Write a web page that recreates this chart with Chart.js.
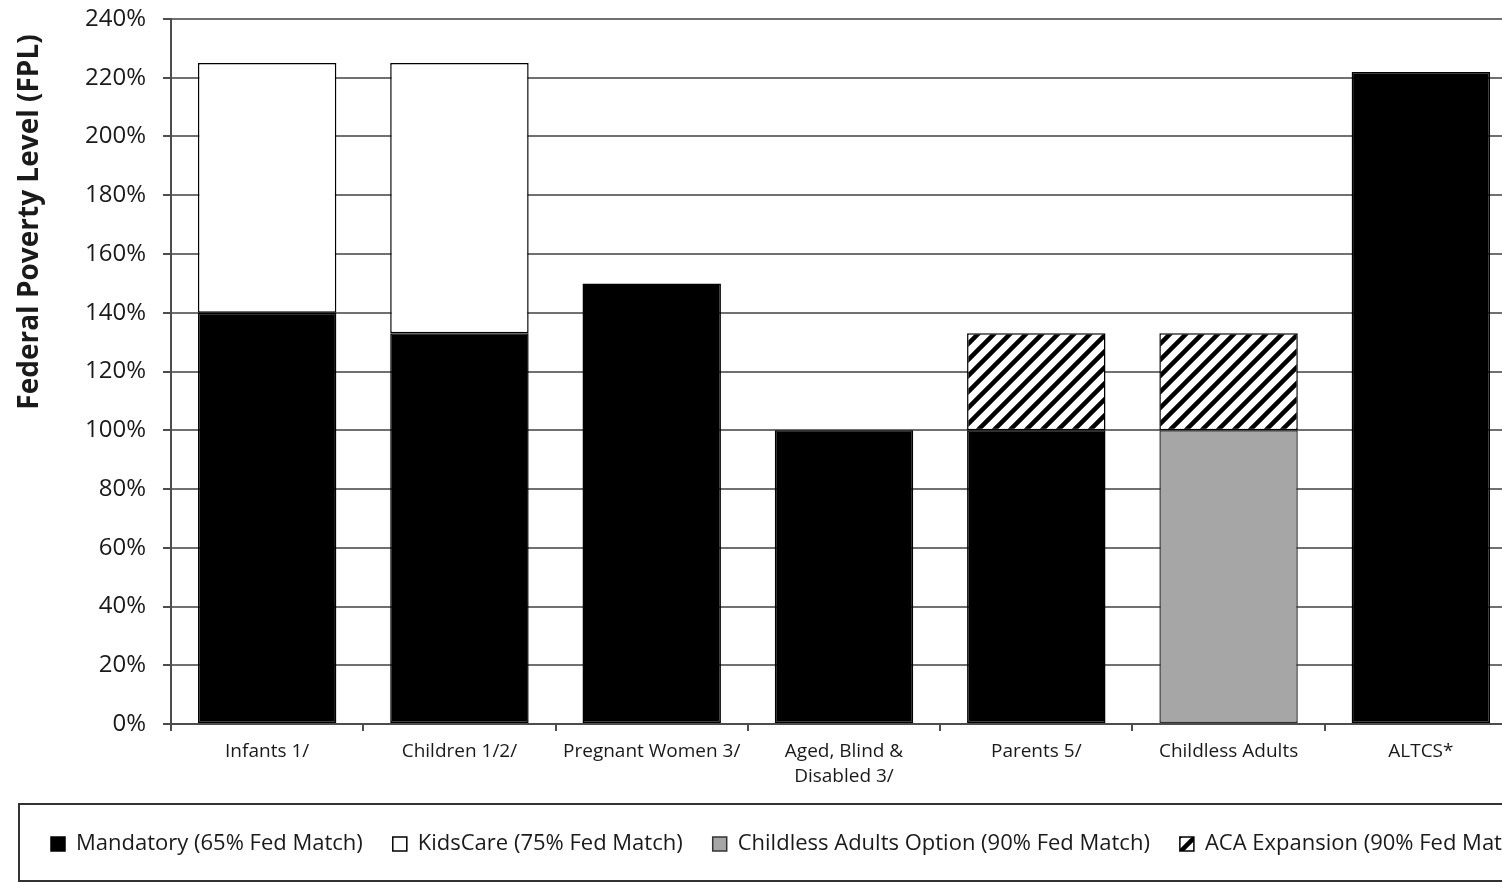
<!DOCTYPE html>
<html>
<head>
<meta charset="utf-8">
<script src="https://cdn.jsdelivr.net/npm/chart.js@4.4.0/dist/chart.umd.min.js"></script>
<style>
  html, body { margin: 0; padding: 0; background: #fff; overflow: hidden; width: 1502px; height: 882px; }
  #wrap { position: relative; width: 1640px; height: 889px; }
</style>
</head>
<body>
<div id="wrap"><canvas id="c" width="1640" height="889"></canvas></div>
<script>
// Eligibility ceilings by group, as % of the Federal Poverty Level
const categories = ['Infants 1/', 'Children 1/2/', 'Pregnant Women 3/', ['Aged, Blind &', 'Disabled 3/'], 'Parents 5/', 'Childless Adults', 'ALTCS*'];
const mandatory       = [140, 133, 150, 100, 100, null, 222];
const kidsCare        = [85, 92, null, null, null, null, null];
const childlessOption = [null, null, null, null, null, 100, null];
const acaExpansion    = [null, null, null, null, 33, 33, null];
const seriesNames = ['Mandatory (65% Fed Match)', 'KidsCare (75% Fed Match)', 'Childless Adults Option (90% Fed Match)', 'ACA Expansion (90% Fed Match)'];
const yTickValues = [0, 20, 40, 60, 80, 100, 120, 140, 160, 180, 200, 220, 240];
const yTitle = 'Federal Poverty Level (FPL)';

const FONT = '"Open Sans", "DejaVu Sans", sans-serif';
const TEXT = '#1a1a1a';
const AXIS = '#4d4d4d';

// Diagonal black/white hatch used for the ACA expansion segments
function makeHatch() {
  const s = 16;
  const t = document.createElement('canvas');
  t.width = s; t.height = s;
  const g = t.getContext('2d');
  g.fillStyle = '#fff';
  g.fillRect(0, 0, s, s);
  g.strokeStyle = '#000';
  g.lineWidth = 4.5;
  g.beginPath();
  g.moveTo(0, s); g.lineTo(s, 0);
  g.moveTo(-s / 2, s / 2); g.lineTo(s / 2, -s / 2);
  g.moveTo(s / 2, s * 1.5); g.lineTo(s * 1.5, s / 2);
  g.stroke();
  return g.createPattern(t, 'repeat');
}
const ctx = document.getElementById('c').getContext('2d');
const hatch = makeHatch();

// Rotated axis title and the frame around the legend
const framePlugin = {
  id: 'frame',
  afterDraw(chart) {
    const c = chart.ctx;
    const area = chart.chartArea;
    const lg = chart.legend;
    c.save();
    c.translate(30, area.top + 203);
    c.rotate(-Math.PI / 2);
    c.font = 'bold 28px ' + FONT;
    c.fillStyle = TEXT;
    c.textAlign = 'center';
    c.textBaseline = 'middle';
    c.fillText(yTitle, 0, 0);
    c.restore();

    const cy = lg.top + lg.options.labels.padding + 11;
    c.save();
    c.strokeStyle = '#333';
    c.lineWidth = 2;
    c.strokeRect(19, cy - 40, chart.width + 10, 77);
    c.restore();
  }
};

const common = { borderColor: '#000', borderWidth: 1.5, borderSkipped: false, categoryPercentage: 1, barPercentage: 0.72 };

new Chart(ctx, {
  type: 'bar',
  data: {
    labels: categories,
    datasets: [
      Object.assign({ label: seriesNames[0], data: mandatory, backgroundColor: '#000' }, common),
      Object.assign({ label: seriesNames[1], data: kidsCare, backgroundColor: '#fff' }, common),
      Object.assign({ label: seriesNames[2], data: childlessOption, backgroundColor: '#a6a6a6' }, common, { borderColor: '#333' }),
      Object.assign({ label: seriesNames[3], data: acaExpansion, backgroundColor: hatch }, common)
    ]
  },
  options: {
    responsive: false,
    devicePixelRatio: 1,
    animation: false,
    layout: { padding: { left: 21, right: 0, top: 19, bottom: 24 } },
    plugins: {
      tooltip: { enabled: false },
      legend: {
        position: 'bottom',
        align: 'start',
        labels: {
          font: { family: FONT, size: 22 },
          color: TEXT,
          boxWidth: 14,
          boxHeight: 14,
          padding: 30
        }
      }
    },
    scales: {
      x: {
        stacked: true,
        afterFit(scale) { scale.height = 79; },
        grid: { offset: true, drawOnChartArea: false, drawTicks: true, tickLength: 7, tickColor: AXIS, lineWidth: 2 },
        border: { color: AXIS, width: 2 },
        ticks: { font: { family: FONT, size: 19, lineHeight: 1.32 }, color: TEXT, padding: 8, maxRotation: 0, autoSkip: false }
      },
      y: {
        stacked: true,
        min: 0,
        max: 240,
        afterFit(scale) { scale.width = 150; scale.paddingTop = 0; scale.paddingBottom = 0; },
        afterBuildTicks(scale) { scale.ticks = yTickValues.map(v => ({ value: v })); },
        grid: { color: '#707070', lineWidth: 2, tickLength: 8, tickColor: AXIS },
        border: { color: AXIS, width: 2 },
        ticks: { font: { family: FONT, size: 24 }, color: TEXT, padding: 17, callback: v => v + '%' }
      },
      // empty right-hand gutter so the plot ends where the page is cut off
      gutter: {
        type: 'linear',
        position: 'right',
        min: 0,
        max: 1,
        afterFit(scale) { scale.width = 123; scale.paddingTop = 0; scale.paddingBottom = 0; },
        grid: { display: false },
        border: { display: false },
        ticks: { display: false }
      }
    }
  },
  plugins: [framePlugin]
});
</script>
</body>
</html>
